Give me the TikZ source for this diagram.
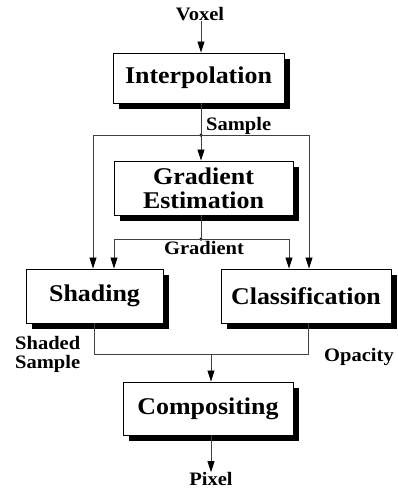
\documentclass[tikz,border=0pt]{standalone}
\usepackage{fontspec}
\setmainfont{Liberation Serif}[FakeStretch=1.08]
\usetikzlibrary{arrows.meta,shadows}
\begin{document}
\begin{tikzpicture}[x=1pt,y=-1pt,
  stage/.style={draw=black,line width=0.9pt,fill=white,inner sep=0pt,
    align=center,font=\fontsize{24}{24}\selectfont\bfseries,
    drop shadow={shadow xshift=5.5pt,shadow yshift=-5.5pt,fill=black,opacity=1}},
  lbl/.style={inner sep=0pt,font=\fontsize{19}{19}\selectfont\bfseries},
  conn/.style={draw=black!75,line width=0.8pt},
  arr/.style={conn,-{Triangle[length=11pt,width=7pt,fill=black,color=black]}},
  junction/.style={circle,fill=black,inner sep=0pt,minimum size=3.5pt}]
\path[use as bounding box] (0,0) rectangle (398,491);

% stages
\node[stage,minimum width=171pt,minimum height=50pt] (interp) at (198.5,78) {Interpolation};
\node[stage,minimum width=179pt,minimum height=54pt] (grad) at (203.5,188) {Gradient\\Estimation};
\node[stage,minimum width=137pt,minimum height=54pt] (shade) at (94.5,296) {Shading};
\node[stage,minimum width=170pt,minimum height=54pt] (class) at (306,296) {Classification};
\node[stage,minimum width=170pt,minimum height=53pt] (comp) at (208,408.5) {Compositing};

% labels
\node[lbl] (voxel) at (200,14) {Voxel};
\node[lbl,anchor=west] (sample) at (206,126) {Sample};
\node[lbl] (gradlbl) at (204,248) {Gradient};
\node[lbl,anchor=west,align=left] (shsample) at (15,354) {Shaded\\Sample};
\node[lbl] (opac) at (359,357) {Opacity};
\node[lbl] (pixel) at (211,479) {Pixel};

% junctions and corners
\node[junction] (d1) at (201,135) {};
\node[junction] (d2) at (201,239) {};
\coordinate (sl) at (93,135);
\coordinate (sr) at (309,135);
\coordinate (gl) at (114,239);
\coordinate (gr) at (289,239);
\coordinate (cl) at (94,354);
\coordinate (cr) at (308,354);
\coordinate (cm) at (211,354);

% connectors
\draw[arr] (voxel.south -| d1) -- (interp.north -| d1);
\draw[conn] (interp.south -| d1) -- (d1.center);
\draw[conn] (sl) -- (sr);
\draw[arr] (d1.center) -- (grad.north -| d1);
\draw[arr] (sl) -- (shade.north -| sl);
\draw[arr] (sr) -- (class.north -| sr);

\draw[conn] (grad.south -| d2) -- (d2.center);
\draw[conn] (gl) -- (gr);
\draw[arr] (gl) -- (shade.north -| gl);
\draw[arr] (gr) -- (class.north -| gr);

\draw[conn] (shade.south -| cl) -- (cl) -- (cr) -- (class.south -| cr);
\draw[arr] (cm) -- (comp.north -| cm);
\draw[arr] (comp.south -| cm) -- (pixel.north -| cm);
\end{tikzpicture}
\end{document}
